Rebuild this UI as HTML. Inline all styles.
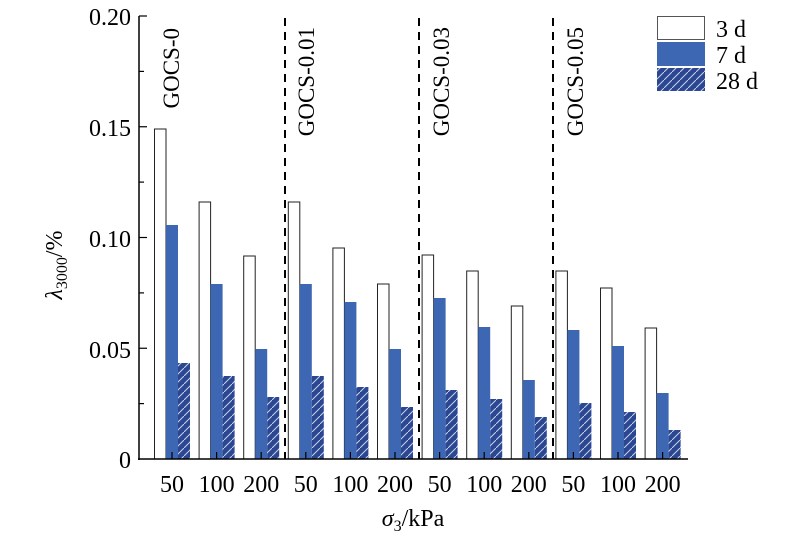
<!DOCTYPE html>
<html><head><meta charset="utf-8"><style>
html,body{margin:0;padding:0;background:#fff;}
svg,svg text{font-family:"Liberation Serif","DejaVu Serif","Times New Roman",serif;}
</style></head><body>
<svg width="800" height="539" viewBox="0 0 800 539" xmlns="http://www.w3.org/2000/svg" style="display:block">
<defs>
<pattern id="h" patternUnits="userSpaceOnUse" width="8" height="8">
<rect width="8" height="8" fill="#2b4792"/>
<path d="M-1,9 L9,-1" stroke="#c8d2ea" stroke-width="1"/>
</pattern>
</defs>
<g stroke="#222" stroke-width="1" fill="#fff">
<rect x="154.5" y="129" width="11.5" height="330"/>
<rect x="199.1" y="202" width="11.5" height="257"/>
<rect x="243.7" y="256" width="11.5" height="203"/>
<rect x="288.3" y="202" width="11.5" height="257"/>
<rect x="332.9" y="248" width="11.5" height="211"/>
<rect x="377.5" y="284" width="11.5" height="175"/>
<rect x="422.1" y="255" width="11.5" height="204"/>
<rect x="466.7" y="271" width="11.5" height="188"/>
<rect x="511.3" y="306" width="11.5" height="153"/>
<rect x="555.9" y="271" width="11.5" height="188"/>
<rect x="600.5" y="288" width="11.5" height="171"/>
<rect x="645.1" y="328" width="11.5" height="131"/>
</g>
<g fill="#3d66b3">
<rect x="166" y="225" width="12" height="234"/>
<rect x="210.6" y="284" width="12" height="175"/>
<rect x="255.2" y="349" width="12" height="110"/>
<rect x="299.8" y="284" width="12" height="175"/>
<rect x="344.4" y="302" width="12" height="157"/>
<rect x="389" y="349" width="12" height="110"/>
<rect x="433.6" y="298" width="12" height="161"/>
<rect x="478.2" y="327" width="12" height="132"/>
<rect x="522.8" y="380" width="12" height="79"/>
<rect x="567.4" y="330" width="12" height="129"/>
<rect x="612" y="346" width="12" height="113"/>
<rect x="656.6" y="393" width="12" height="66"/>
</g>
<g fill="url(#h)">
<rect x="178" y="363" width="12" height="96"/>
<rect x="222.6" y="376" width="12" height="83"/>
<rect x="267.2" y="397" width="12" height="62"/>
<rect x="311.8" y="376" width="12" height="83"/>
<rect x="356.4" y="387" width="12" height="72"/>
<rect x="401" y="407" width="12" height="52"/>
<rect x="445.6" y="390" width="12" height="69"/>
<rect x="490.2" y="399" width="12" height="60"/>
<rect x="534.8" y="417" width="12" height="42"/>
<rect x="579.4" y="403" width="12" height="56"/>
<rect x="624" y="412" width="12" height="47"/>
<rect x="668.6" y="430" width="12" height="29"/>
</g>
<g stroke="#000" stroke-width="1.2">
<line x1="172" y1="459" x2="172" y2="452"/>
<line x1="216.6" y1="459" x2="216.6" y2="452"/>
<line x1="261.2" y1="459" x2="261.2" y2="452"/>
<line x1="305.8" y1="459" x2="305.8" y2="452"/>
<line x1="350.4" y1="459" x2="350.4" y2="452"/>
<line x1="395" y1="459" x2="395" y2="452"/>
<line x1="439.6" y1="459" x2="439.6" y2="452"/>
<line x1="484.2" y1="459" x2="484.2" y2="452"/>
<line x1="528.8" y1="459" x2="528.8" y2="452"/>
<line x1="573.4" y1="459" x2="573.4" y2="452"/>
<line x1="618" y1="459" x2="618" y2="452"/>
<line x1="662.6" y1="459" x2="662.6" y2="452"/>
<line x1="139" y1="16" x2="147" y2="16"/>
<line x1="139" y1="71.4" x2="144" y2="71.4"/>
<line x1="139" y1="126.75" x2="147" y2="126.75"/>
<line x1="139" y1="182.1" x2="144" y2="182.1"/>
<line x1="139" y1="237.5" x2="147" y2="237.5"/>
<line x1="139" y1="292.9" x2="144" y2="292.9"/>
<line x1="139" y1="348.25" x2="147" y2="348.25"/>
<line x1="139" y1="403.6" x2="144" y2="403.6"/>
</g>
<line x1="139" y1="16" x2="139" y2="460" stroke="#000" stroke-width="1.5"/>
<line x1="138" y1="459" x2="688" y2="459" stroke="#000" stroke-width="1.5"/>
<g stroke="#000" stroke-width="2" stroke-dasharray="8,6">
<line x1="285" y1="18" x2="285" y2="459"/>
<line x1="419" y1="18" x2="419" y2="459"/>
<line x1="553" y1="18" x2="553" y2="459"/>
</g>
<g font-size="24" text-anchor="end">
<text x="131" y="25">0.20</text>
<text x="131" y="136">0.15</text>
<text x="131" y="247">0.10</text>
<text x="131" y="358">0.05</text>
<text x="131" y="468">0</text>
</g>
<g font-size="23" text-anchor="end">
<text transform="translate(179,28) rotate(-90)">GOCS-0</text>
<text transform="translate(314,27) rotate(-90)">GOCS-0.01</text>
<text transform="translate(449,27) rotate(-90)">GOCS-0.03</text>
<text transform="translate(583,27) rotate(-90)">GOCS-0.05</text>
</g>
<g font-size="24" text-anchor="middle">
<text x="172" y="492">50</text>
<text x="216.6" y="492">100</text>
<text x="261.2" y="492">200</text>
<text x="305.8" y="492">50</text>
<text x="350.4" y="492">100</text>
<text x="395" y="492">200</text>
<text x="439.6" y="492">50</text>
<text x="484.2" y="492">100</text>
<text x="528.8" y="492">200</text>
<text x="573.4" y="492">50</text>
<text x="618" y="492">100</text>
<text x="662.6" y="492">200</text>
</g>
<text x="413" y="526" font-size="24" text-anchor="middle"><tspan font-style="italic">σ</tspan><tspan font-size="16" dy="5">3</tspan><tspan dy="-5">/kPa</tspan></text>
<text transform="translate(62,265) rotate(-90)" font-size="24" text-anchor="middle"><tspan font-style="italic">λ</tspan><tspan font-size="16" dy="5">3000</tspan><tspan dy="-5">/%</tspan></text>
<rect x="657.5" y="16.5" width="47" height="23" fill="#fff" stroke="#555"/>
<rect x="657" y="42" width="48" height="24" fill="#3d66b3"/>
<rect x="657" y="68" width="48" height="23" fill="url(#h)"/>
<g font-size="24">
<text x="716" y="37">3 d</text>
<text x="716" y="63">7 d</text>
<text x="716" y="89">28 d</text>
</g>
</svg>
</body></html>
